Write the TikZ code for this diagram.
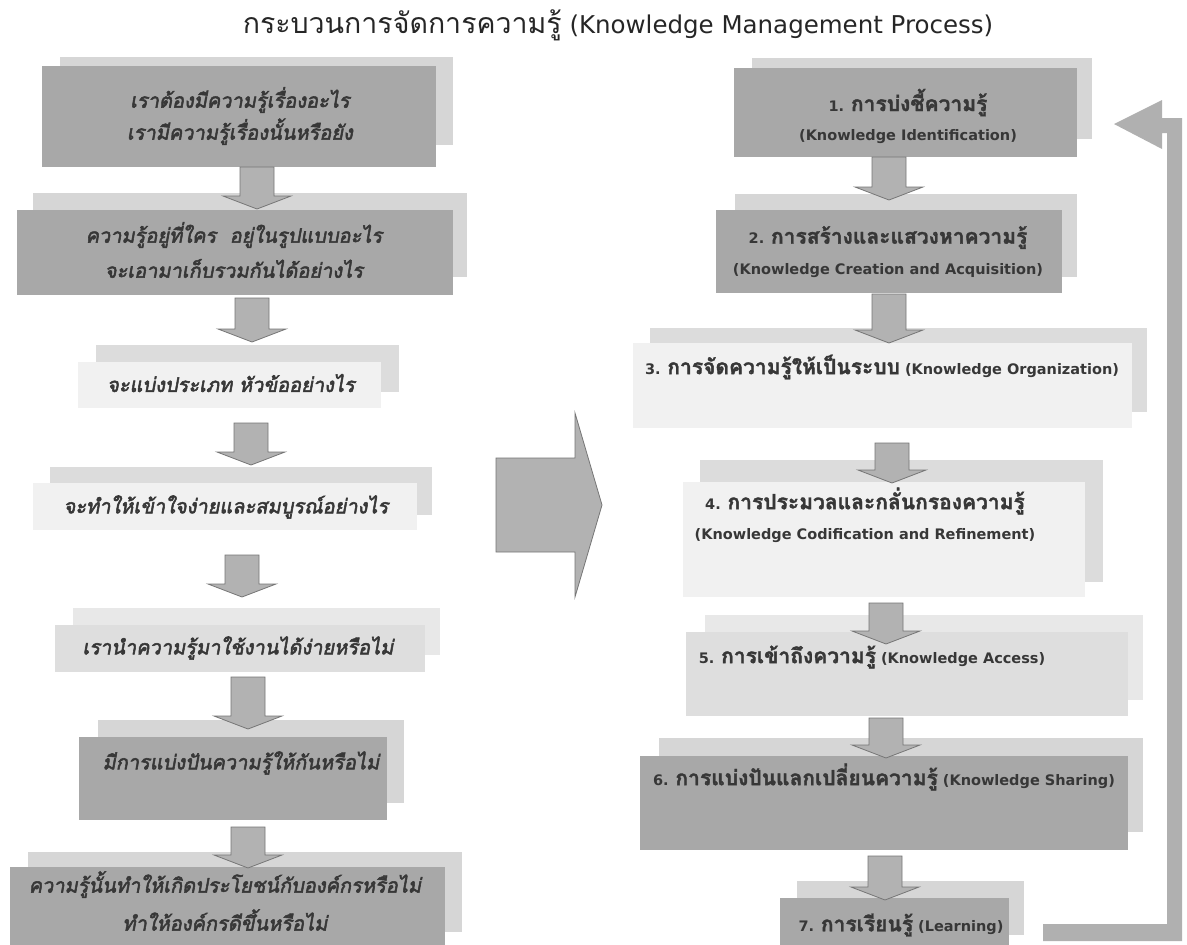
\documentclass[tikz,border=0pt]{standalone}
\usepackage{fontspec}
\setmainfont{DejaVu Sans}
\newfontfamily\thai[Script=Thai]{Loma}
\newfontfamily\thaib[Script=Thai,FakeBold=1.6]{Loma}
\newfontfamily\thaibi[Script=Thai,FakeBold=2.6,FakeSlant=0.18]{Loma}
\newfontfamily\lat{DejaVu Sans}
\usetikzlibrary{calc,fit}
\definecolor{boxdark}{RGB}{168,168,168}
\definecolor{shdark}{RGB}{214,214,214}
\definecolor{boxlight}{RGB}{241,241,241}
\definecolor{shlight}{RGB}{220,220,220}
\definecolor{boxmid}{RGB}{222,222,222}
\definecolor{shmid}{RGB}{232,232,232}
\definecolor{txt}{RGB}{55,55,55}
\definecolor{arrfill}{RGB}{178,178,178}
\definecolor{arrline}{RGB}{118,118,118}
\definecolor{loopfill}{RGB}{176,176,176}
\newcommand\rth[1]{{\thaib\fontsize{21}{29}\selectfont #1}}
\newcommand\barrow[2]{%
  \draw[blockarr] let \p1=(#1), \p2=(#2) in
   (\x1-17pt,\y1) -- (\x1+17pt,\y1) -- (\x1+17pt,\y2+13pt) -- (\x1+34pt,\y2+13pt)
   -- (\x1,\y2) -- (\x1-34pt,\y2+13pt) -- (\x1-17pt,\y2+13pt) -- cycle;}
\begin{document}
\begin{tikzpicture}[x=1pt,y=-1pt,
  box/.style={inner sep=0pt, outer sep=0pt, draw=none},
  darkbox/.style={box, fill=boxdark},
  lightbox/.style={box, fill=boxlight},
  midbox/.style={box, fill=boxmid},
  ltxt/.style={font=\thaibi\fontsize{20}{32}\selectfont, text=txt, align=center, inner sep=0pt},
  rtxt/.style={font=\lat\bfseries\fontsize{14.5}{29}\selectfont, text=txt, align=center, inner sep=0pt},
  titlest/.style={font=\lat\fontsize{24.5}{28}\selectfont, text=black!85, inner sep=0pt},
  blockarr/.style={fill=arrfill, draw=arrline, line width=0.8pt, line join=miter},
  loop/.style={fill=loopfill, draw=none}]
\useasboundingbox (0,0) rectangle (1187,945);
\fill[white] (0,0) rectangle (1187,945);

% ---------- shadows ----------
\fill[shdark]  (60,57)   rectangle (453,145);
\fill[shdark]  (33,193)  rectangle (467,277);
\fill[shlight] (96,345)  rectangle (399,392);
\fill[shlight] (50,467)  rectangle (432,515);
\fill[shmid]   (73,608)  rectangle (440,655);
\fill[shdark]  (98,720)  rectangle (404,803);
\fill[shdark]  (28,852)  rectangle (462,932);

\fill[shdark]  (752,58)  rectangle (1092,139);
\fill[shdark]  (735,194) rectangle (1077,277);
\fill[shlight] (650,328) rectangle (1147,412);
\fill[shlight] (700,460) rectangle (1103,582);
\fill[shmid]   (705,615) rectangle (1143,700);
\fill[shdark]  (659,738) rectangle (1143,832);
\fill[shdark]  (797,881) rectangle (1024,935);

% ---------- main boxes ----------
\node[darkbox,  fit={(42,66) (436,167)}]  (L1) {};
\node[darkbox,  fit={(17,210) (453,295)}] (L2) {};
\node[lightbox, fit={(78,362) (381,408)}] (L3) {};
\node[lightbox, fit={(33,483) (417,530)}] (L4) {};
\node[midbox,   fit={(55,625) (425,672)}] (L5) {};
\node[darkbox,  fit={(79,737) (387,820)}] (L6) {};
\node[darkbox,  fit={(10,867) (445,945)}] (L7) {};

\node[darkbox,  fit={(734,68) (1077,157)}]  (R1) {};
\node[darkbox,  fit={(716,210) (1062,293)}] (R2) {};
\node[lightbox, fit={(633,343) (1132,428)}] (R3) {};
\node[lightbox, fit={(683,482) (1085,597)}] (R4) {};
\node[midbox,   fit={(686,632) (1128,716)}] (R5) {};
\node[darkbox,  fit={(640,756) (1128,850)}] (R6) {};
\node[darkbox,  fit={(780,898) (1009,945)}] (R7) {};

% ---------- arrows left ----------
\barrow{$(L1.south)+(18,0)$}{$(L2.north)+(22,-1)$}
\barrow{$(L2.south)+(17,3)$}{$(L3.north)+(22.5,-20)$}
\barrow{$(L3.south)+(21.5,15)$}{$(L4.north)+(26,-18)$}
\barrow{$(L4.south)+(17,25)$}{$(L5.north)+(2,-28)$}
\barrow{$(L5.south)+(8,5)$}{$(L6.north)+(15,-8)$}
\barrow{$(L6.south)+(15,7)$}{$(L7.north)+(20.5,1)$}

% ---------- arrows right ----------
\barrow{$(R1.south)+(-16.5,0)$}{$(R2.north)+(0,-10)$}
\barrow{$(R2.south)+(0,1)$}{$(R3.north)+(6.5,0)$}
\barrow{$(R3.south)+(9.5,15)$}{$(R4.north)+(8,1)$}
\barrow{$(R4.south)+(2,6)$}{$(R5.north)+(-21,12)$}
\barrow{$(R5.south)+(-21,2)$}{$(R6.north)+(2,2)$}
\barrow{$(R6.south)+(1,6)$}{$(R7.north)+(-9.5,2)$}

% ---------- big arrow ----------
\draw[blockarr] (496,458) -- (575,458) -- (575,413) -- (602,505) -- (575,597) -- (575,552) -- (496,552) -- cycle;

% ---------- feedback loop ----------
\fill[loop] (1043,924) -- (1167,924) -- (1167,133) -- (1162,133) -- (1162,149) -- (1114,124)
  -- (1162,100) -- (1162,118) -- (1182,118) -- (1182,941) -- (1043,941) -- cycle;

% ---------- texts ----------
\node[titlest] (title) at (618,25) {{\thai\fontsize{28.5}{30}\selectfont กระบวนการจัดการความรู้} (Knowledge Management Process)};

\node[ltxt] (L1t) at (240,116) {เราต้องมีความรู้เรื่องอะไร\\เรามีความรู้เรื่องนั้นหรือยัง};
\node[ltxt] (L2t) at (234,250) {ความรู้อยู่ที่ใคร\ \ อยู่ในรูปแบบอะไร\\[3pt]จะเอามาเก็บรวมกันได้อย่างไร};
\node[ltxt] (L3t) at (231,383) {จะแบ่งประเภท หัวข้ออย่างไร};
\node[ltxt] (L4t) at (226,507) {จะทำให้เข้าใจง่ายและสมบูรณ์อย่างไร};
\node[ltxt] (L5t) at (238,648) {เรานำความรู้มาใช้งานได้ง่ายหรือไม่};
\node[ltxt] (L6t) at (241,763) {มีการแบ่งปันความรู้ให้กันหรือไม่};
\node[ltxt] (L7t) at (225,901) {ความรู้นั้นทำให้เกิดประโยชน์กับองค์กรหรือไม่\\[6pt]ทำให้องค์กรดีขึ้นหรือไม่};

\node[rtxt] (R1t) at (908,116) {1. \rth{การบ่งชี้ความรู้}\\(Knowledge Identification)};
\node[rtxt] (R2t) at (888,252) {2. \rth{การสร้างและแสวงหาความรู้}\\[2pt](Knowledge Creation and Acquisition)};
\node[rtxt] (R3t) at (882,367) {3. \rth{การจัดความรู้ให้เป็นระบบ} (Knowledge Organization)};
\node[rtxt] (R4t) at (865,515) {4. \rth{การประมวลและกลั่นกรองความรู้}\\[1pt](Knowledge Codification and Refinement)};
\node[rtxt] (R5t) at (872,657) {5. \rth{การเข้าถึงความรู้} (Knowledge Access)};
\node[rtxt] (R6t) at (884,777) {6. \rth{การแบ่งปันแลกเปลี่ยนความรู้} (Knowledge Sharing)};
\node[rtxt] (R7t) at (901,925) {7. \rth{การเรียนรู้} (Learning)};
\end{tikzpicture}
\end{document}
